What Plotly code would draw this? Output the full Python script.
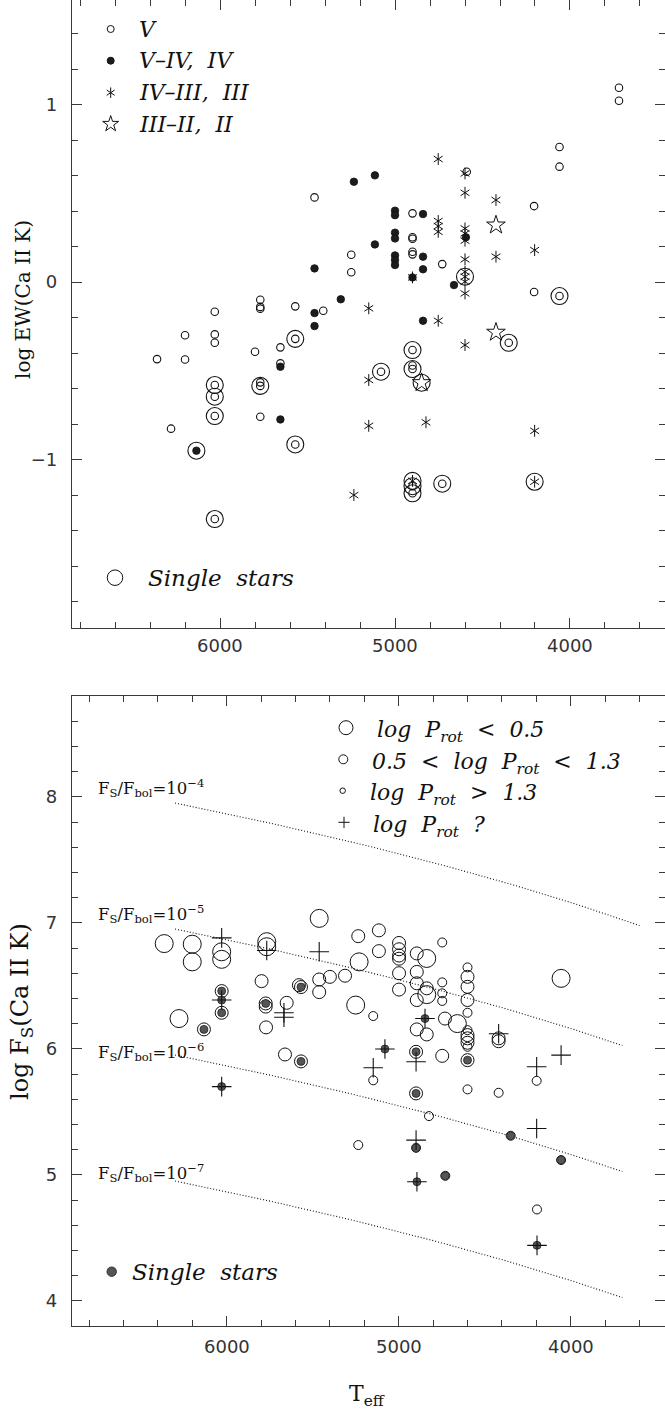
import numpy as np
import plotly.graph_objects as go

# ---------------- upper panel: log EW(Ca II K) vs Teff ----------------
# luminosity class V (open circles); SINGLE = 1 marks single stars (ringed)
V_TEFF = [3720, 3720, 4060, 4060, 4590, 4205, 4900, 4900, 4900, 4900, 4900, 4730,
          5250, 5250, 5460, 4205, 5770, 5770, 5770, 5570, 5410, 6030, 6200, 6030,
          6030, 6360, 6200, 5800, 5655, 5655, 5770, 6280, 5770, 4900,
          4060, 5570, 6030, 6030, 5770, 6030, 5570, 6030, 4350, 4900, 4900, 5080,
          4900, 4900, 4730]
V_LOGEW = [1.095, 1.021, 0.761, 0.650, 0.621, 0.428, 0.387, 0.252, 0.244, 0.171, 0.156, 0.101,
           0.154, 0.055, 0.477, -0.056, -0.100, -0.140, -0.150, -0.137, -0.162, -0.167, -0.300, -0.295,
           -0.342, -0.434, -0.436, -0.393, -0.368, -0.458, -0.759, -0.826, -0.565, -0.470,
           -0.079, -0.320, -0.580, -0.646, -0.585, -0.755, -0.915, -1.335, -0.342, -0.383, -0.490, -0.505,
           -1.150, -1.190, -1.136]
V_SINGLE = [0, 0, 0, 0, 0, 0, 0, 0, 0, 0, 0, 0,
            0, 0, 0, 0, 0, 0, 0, 0, 0, 0, 0, 0,
            0, 0, 0, 0, 0, 0, 0, 0, 0, 0,
            1, 1, 1, 1, 1, 1, 1, 1, 1, 1, 1, 1,
            1, 1, 1]

# classes V-IV and IV (filled dots)
VIV_TEFF = [5235, 5115, 5000, 5000, 4840, 5000, 5000, 4595, 5115, 5000, 5000, 5000,
            4840, 4840, 4900, 4663, 5460, 5310, 5460, 5460, 4840, 5655, 5655, 6135]
VIV_LOGEW = [0.565, 0.601, 0.402, 0.377, 0.383, 0.278, 0.246, 0.252, 0.212, 0.150, 0.124, 0.096,
             0.143, 0.072, 0.026, -0.017, 0.077, -0.097, -0.175, -0.248, -0.218, -0.477, -0.774, -0.950]
VIV_SINGLE = [0, 0, 0, 0, 0, 0, 0, 0, 0, 0, 0, 0,
              0, 0, 0, 0, 0, 0, 0, 0, 0, 0, 0, 1]

# classes IV-III and III (asterisks)
III_TEFF = [4753, 4600, 4600, 4423, 4753, 4753, 4753, 4600, 4600, 4600, 4423, 4202,
            4600, 4600, 4600, 4600, 4900, 5150, 4753, 4600, 5150, 5150, 4823, 4202,
            5235, 4600, 4202, 4900]
III_LOGEW = [0.693, 0.612, 0.503, 0.462, 0.344, 0.315, 0.283, 0.302, 0.274, 0.233, 0.143, 0.180,
             0.128, 0.058, 0.002, -0.064, 0.026, -0.148, -0.218, -0.355, -0.552, -0.810, -0.790, -0.838,
             -1.200, 0.030, -1.125, -1.120]
III_SINGLE = [0, 0, 0, 0, 0, 0, 0, 0, 0, 0, 0, 0,
              0, 0, 0, 0, 0, 0, 0, 0, 0, 0, 0, 0,
              0, 1, 1, 1]

# classes III-II and II (open stars)
II_TEFF = [4423, 4423, 4848]
II_LOGEW = [0.321, -0.283, -0.567]
II_SINGLE = [0, 0, 1]

# ---------------- lower panel: log F_S(Ca II K) vs Teff ----------------
# log P_rot < 0.5 (large circles)
BIG_TEFF = [6363, 6200, 6200, 6029, 6029, 5767, 5767, 5462, 6277, 5230, 5250, 4837,
            4837, 4659, 4056]
BIG_LOGFS = [6.835, 6.830, 6.690, 6.770, 6.710, 6.850, 6.810, 7.035, 6.240, 6.690, 6.347, 6.717,
             6.430, 6.200, 6.559]
BIG_SINGLE = [0, 0, 0, 0, 0, 0, 0, 0, 0, 0, 0, 0,
              0, 0, 0]

# 0.5 < log P_rot < 1.3 (medium circles)
MID_TEFF = [5797, 6029, 6029, 6132, 5651, 5773, 5773, 5771, 5568, 5580, 5462, 5400,
            5462, 5661, 5568, 5235, 5115, 5115, 4998, 4998, 4998, 4998, 4998, 4998,
            4895, 4895, 4895, 4895, 4895, 4837, 4837, 5312, 4731, 4899, 4747, 4899,
            4600, 4600, 4600, 4600, 4600, 4600, 4600, 4419, 4419]
MID_LOGFS = [6.537, 6.458, 6.286, 6.154, 6.365, 6.360, 6.335, 6.170, 6.490, 6.505, 6.550, 6.571,
             6.450, 5.955, 5.900, 6.894, 6.940, 6.775, 6.840, 6.790, 6.740, 6.715, 6.600, 6.470,
             6.757, 6.610, 6.520, 6.387, 6.154, 6.480, 6.114, 6.580, 6.240, 5.976, 5.944, 5.646,
             6.571, 6.492, 6.387, 6.109, 6.083, 6.048, 5.910, 6.083, 6.060]
MID_SINGLE = [0, 1, 1, 1, 0, 1, 0, 0, 1, 0, 0, 0,
              0, 0, 1, 0, 0, 0, 0, 0, 0, 0, 0, 0,
              0, 0, 0, 0, 0, 0, 0, 0, 0, 1, 0, 1,
              0, 0, 0, 0, 0, 0, 1, 0, 0]

# log P_rot > 1.3 (small circles)
SML_TEFF = [4747, 4747, 4747, 4747, 5148, 5148, 4824, 5235, 4899, 4729, 4600, 4600,
            4600, 4600, 4600, 4419, 4198, 4349, 4056, 4196]
SML_LOGFS = [6.844, 6.527, 6.440, 6.380, 6.260, 5.750, 5.466, 5.236, 5.214, 4.992, 6.646, 6.286,
             6.148, 6.016, 5.678, 5.651, 5.746, 5.310, 5.117, 4.725]
SML_SINGLE = [0, 0, 0, 0, 0, 0, 0, 0, 1, 1, 0, 0,
              0, 0, 0, 0, 0, 1, 1, 0]

# rotation period unknown (plus signs)
UNK_TEFF = [6029, 5767, 5462, 6029, 5667, 5667, 6029, 4847, 5080, 4899, 5148, 4899,
            4894, 4419, 4198, 4056, 4198, 4196]
UNK_LOGFS = [6.880, 6.780, 6.770, 6.387, 6.286, 6.250, 5.700, 6.240, 5.998, 5.897, 5.850, 5.275,
             4.945, 6.120, 5.857, 5.950, 5.368, 4.440]
UNK_SINGLE = [0, 0, 0, 1, 0, 0, 1, 1, 1, 0, 0, 0,
              1, 0, 0, 0, 0, 1]

# constant F_S/F_bol loci: log F_S = log(ratio) + FLUX_ZERO + 4 log Teff
FLUX_RATIOS = [-4, -5, -6, -7]
RATIO_TEFF_END = [3600, 3700, 3700, 3700]
RATIO_TEFF_START = 6300
FLUX_ZERO = -3.247

# temperature tick labels shared by both panels
TEFF_TICKS = [6000, 5000, 4000]

# ---------------- page geometry (pixels) ----------------
FIG_W, FIG_H = 665, 1411
PLOT_L, PLOT_R = 72, 665
TOP_FRAME = (0, 628)
BOT_FRAME = (696, 1326)
PLOT_H = BOT_FRAME[1]

TOP_XR = [6846, 3457]
TOP_YR = [-1.949, 1.589]
BOT_XR = [6899, 3452]
BOT_YR = [3.8, 8.8]

INK = "#111111"
FRAME = "#3a3a3a"
SERIF = "DejaVu Serif"
SANS = "DejaVu Sans"


def xfrac(px):
    return (px - PLOT_L) / (PLOT_R - PLOT_L)


def yfrac(py):
    return (PLOT_H - py) / PLOT_H


def top_xy(px, py):
    t = TOP_XR[0] + xfrac(px) * (TOP_XR[1] - TOP_XR[0])
    y = TOP_YR[1] - (py - TOP_FRAME[0]) / (TOP_FRAME[1] - TOP_FRAME[0]) * (TOP_YR[1] - TOP_YR[0])
    return t, y


def bot_xy(px, py):
    t = BOT_XR[0] + xfrac(px) * (BOT_XR[1] - BOT_XR[0])
    y = BOT_YR[1] - (py - BOT_FRAME[0]) / (BOT_FRAME[1] - BOT_FRAME[0]) * (BOT_YR[1] - BOT_YR[0])
    return t, y


def pick(xs, ys, flags):
    sel = [i for i, f in enumerate(flags) if f]
    return [xs[i] for i in sel], [ys[i] for i in sel]


fig = go.Figure()


def pts(x, y, symbol, size, axes, color=INK, width=1.1, fill=None):
    xa, ya = axes
    fig.add_trace(go.Scatter(
        x=x, y=y, mode="markers", xaxis=xa, yaxis=ya, hoverinfo="skip", showlegend=False,
        marker=dict(symbol=symbol, size=size, color=fill if fill else color,
                    line=dict(color=color, width=width))))


def asterisk(x, y, size, axes):
    # six-armed asterisk built from two three-armed glyphs
    pts(x, y, "y-up-open", size, axes, width=1.0)
    pts(x, y, "y-down-open", size, axes, width=1.0)


TOP = ("x", "y")
BOT = ("x2", "y2")

# ---- upper panel marks ----
pts(V_TEFF, V_LOGEW, "circle-open", 7.5, TOP)
pts(VIV_TEFF, VIV_LOGEW, "circle", 7.5, TOP, fill="#1c1c1c", width=0.8)
asterisk(III_TEFF, III_LOGEW, 7.4, TOP)
pts(II_TEFF, II_LOGEW, "star-open", 14, TOP, width=1.0)
ring_x, ring_y = [], []
for xs, ys, fl in [(V_TEFF, V_LOGEW, V_SINGLE), (VIV_TEFF, VIV_LOGEW, VIV_SINGLE),
                   (III_TEFF, III_LOGEW, III_SINGLE), (II_TEFF, II_LOGEW, II_SINGLE)]:
    a, b = pick(xs, ys, fl)
    ring_x += a
    ring_y += b
pts(ring_x, ring_y, "circle-open", 17, TOP, width=1.1)

# upper legend keys
TOP_KEYS = [("circle-open", 7, None, "V"),
            ("circle", 7, "#1c1c1c", "V–IV,\u00a0\u00a0IV"),
            ("asterisk", 6.6, None, "IV–III,\u00a0\u00a0III"),
            ("star-open", 12, None, "III–II,\u00a0\u00a0II")]
TOP_KEY_ROWS = [29, 60.7, 92.7, 124]
for (sym, sz, fill, label), row in zip(TOP_KEYS, TOP_KEY_ROWS):
    kx, ky = top_xy(110.7, row)
    if sym == "asterisk":
        asterisk([kx], [ky], sz, TOP)
    else:
        pts([kx], [ky], sym, sz, TOP, fill=fill, width=1.0)
    fig.add_annotation(x=xfrac(137), y=yfrac(row), xref="paper", yref="paper",
                       text=f"<i>{label}</i>", showarrow=False, xanchor="left", yanchor="middle",
                       font=dict(family=SERIF, size=22, color=INK))
kx, ky = top_xy(115, 577.7)
pts([kx], [ky], "circle-open", 15.5, TOP, width=1.0)
fig.add_annotation(x=xfrac(146), y=yfrac(577.7), xref="paper", yref="paper",
                   text="<i>Single\u00a0\u00a0stars</i>", showarrow=False, xanchor="left",
                   yanchor="middle", font=dict(family=SERIF, size=23, color=INK))

# ---- lower panel marks ----
for ratio, t_end in zip(FLUX_RATIOS, RATIO_TEFF_END):
    tt = np.linspace(RATIO_TEFF_START, t_end, 80)
    fig.add_trace(go.Scatter(x=tt, y=ratio + FLUX_ZERO + 4 * np.log10(tt), mode="lines",
                             xaxis="x2", yaxis="y2", hoverinfo="skip", showlegend=False,
                             line=dict(color="#111111", width=1.1, dash="1px,2px")))

pts(BIG_TEFF, BIG_LOGFS, "circle-open", 18, BOT, width=1.0)
pts(MID_TEFF, MID_LOGFS, "circle-open", 13, BOT, width=1.0)
pts(SML_TEFF, SML_LOGFS, "circle-open", 9, BOT, width=1.0)
sx, sy = [], []
for xs, ys, fl in [(BIG_TEFF, BIG_LOGFS, BIG_SINGLE), (MID_TEFF, MID_LOGFS, MID_SINGLE),
                   (SML_TEFF, SML_LOGFS, SML_SINGLE), (UNK_TEFF, UNK_LOGFS, UNK_SINGLE)]:
    a, b = pick(xs, ys, fl)
    sx += a
    sy += b
pts(sx, sy, "circle", 8, BOT, color="#222222", fill="#555555", width=0.8)
pts(UNK_TEFF, UNK_LOGFS, "cross-thin-open", 14, BOT, width=1.1)

# lower legend keys
BOT_KEYS = [("circle-open", 14, 346, 727.7, 375, "log\u00a0\u00a0P<sub>rot</sub>\u00a0\u00a0<\u00a0\u00a00.5"),
            ("circle-open", 9, 343.3, 759.3, 370, "0.5\u00a0\u00a0<\u00a0\u00a0log\u00a0\u00a0P<sub>rot</sub>\u00a0\u00a0<\u00a0\u00a01.3"),
            ("circle-open", 5.5, 342.7, 790.7, 368, "log\u00a0\u00a0P<sub>rot</sub>\u00a0\u00a0>\u00a0\u00a01.3"),
            ("cross-thin-open", 8, 344, 822.3, 371, "log\u00a0\u00a0P<sub>rot</sub>\u00a0\u00a0?")]
for sym, sz, kpx, kpy, tpx, label in BOT_KEYS:
    kx, ky = bot_xy(kpx, kpy)
    pts([kx], [ky], sym, sz, BOT, width=1.0)
    fig.add_annotation(x=xfrac(tpx), y=yfrac(kpy + 4), xref="paper", yref="paper",
                       text=f"<i>{label}</i>", showarrow=False, xanchor="left", yanchor="middle",
                       font=dict(family=SERIF, size=22, color=INK))
kx, ky = bot_xy(111.7, 1271.7)
pts([kx], [ky], "circle", 9.5, BOT, color="#222222", fill="#555555", width=0.8)
fig.add_annotation(x=xfrac(130), y=yfrac(1272), xref="paper", yref="paper",
                   text="<i>Single\u00a0\u00a0stars</i>", showarrow=False, xanchor="left",
                   yanchor="middle", font=dict(family=SERIF, size=23, color=INK))

# labels of the constant-ratio loci
RATIO_LABEL_ROWS = [788, 914, 1052, 1173]
for ratio, row in zip(FLUX_RATIOS, RATIO_LABEL_ROWS):
    fig.add_annotation(x=xfrac(96), y=yfrac(row), xref="paper", yref="paper",
                       text=f"F<sub>S</sub>/F<sub>bol</sub>=10<sup>−{-ratio}</sup>",
                       showarrow=False, xanchor="left", yanchor="middle",
                       font=dict(family=SERIF, size=16.5, color=INK))

# temperature tick labels placed on each panel's own x scale
for xref, row in [("x", 645.5), ("x2", 1346)]:
    for t in TEFF_TICKS:
        fig.add_annotation(x=t, y=yfrac(row), xref=xref, yref="paper", text=str(t),
                           showarrow=False, xanchor="center", yanchor="middle",
                           font=dict(family=SANS, size=18, color="#333333"))

# axis titles
fig.add_annotation(x=xfrac(23), y=yfrac(300), xref="paper", yref="paper",
                   text="log EW(Ca II K)", textangle=-90, showarrow=False,
                   xanchor="center", yanchor="middle", font=dict(family=SERIF, size=20, color=INK))
fig.add_annotation(x=xfrac(22), y=yfrac(1012), xref="paper", yref="paper",
                   text="log F<sub>S</sub>(Ca II K)", textangle=-90, showarrow=False,
                   xanchor="center", yanchor="middle", font=dict(family=SERIF, size=24, color=INK))
fig.add_annotation(x=xfrac(367), y=yfrac(1395), xref="paper", yref="paper",
                   text="T<sub>eff</sub>", showarrow=False,
                   xanchor="center", yanchor="middle", font=dict(family=SERIF, size=22, color=INK))


def axis_style(rng, dtick, minor, domain, anchor, labels):
    return dict(range=rng, dtick=dtick, tick0=0, domain=domain, anchor=anchor,
                showline=True, linecolor=FRAME, linewidth=1.4, mirror="ticks",
                ticks="inside", ticklen=10, tickwidth=1.1, tickcolor=FRAME,
                minor=dict(dtick=minor, tick0=0, ticks="inside", ticklen=5.5, tickwidth=1.1,
                           tickcolor=FRAME, showgrid=False),
                showgrid=False, zeroline=False, showticklabels=labels,
                tickfont=dict(family=SANS, size=18, color="#333333"),
                ticklabelstandoff=10)


top_dom = [yfrac(TOP_FRAME[1]), yfrac(TOP_FRAME[0])]
bot_dom = [yfrac(BOT_FRAME[1]), yfrac(BOT_FRAME[0])]

fig.update_layout(
    width=FIG_W, height=FIG_H,
    margin=dict(l=PLOT_L, r=FIG_W - PLOT_R, t=0, b=FIG_H - PLOT_H),
    paper_bgcolor="white", plot_bgcolor="white",
    showlegend=False,
    xaxis=axis_style(TOP_XR, 1000, 200, [0, 1], "y", False),
    yaxis=axis_style(TOP_YR, 1, 0.2, top_dom, "x", True),
    xaxis2=axis_style(BOT_XR, 1000, 200, [0, 1], "y2", False),
    yaxis2=axis_style(BOT_YR, 1, 0.2, bot_dom, "x2", True),
)

fig.write_html("out.html")
